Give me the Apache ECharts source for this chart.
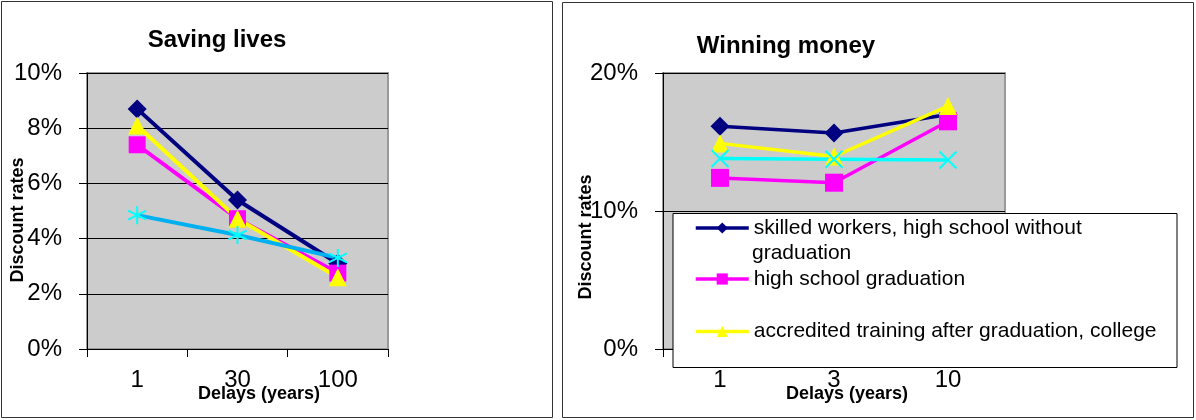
<!DOCTYPE html>
<html>
<head>
<meta charset="utf-8">
<script src="https://cdn.jsdelivr.net/npm/echarts@6/dist/echarts.min.js"></script>
<style>
html,body{margin:0;padding:0;background:#fff;}
#chart{width:1196px;height:420px;}
</style>
</head>
<body>
<div id="chart"></div>
<script>
// ---- data ----
var seriesNames = [
  'skilled workers, high school without graduation',
  'high school graduation',
  'other group',
  'accredited training after graduation, college'
];
var livesDelays = ['1', '30', '100'];
var livesSkilled = [8.7, 5.4, 3.1];
var livesHighSchool = [7.4, 4.72, 2.75];
var livesOther = [4.85, 4.13, 3.3];
var livesAccredited = [8.1, 4.72, 2.6];

var moneyDelays = ['1', '3', '10'];
var moneySkilled = [16.15, 15.65, 17.0];
var moneyHighSchool = [12.4, 12.05, 16.5];
var moneyOther = [13.8, 13.75, 13.7];
var moneyAccredited = [14.9, 13.95, 17.6];

var livesTicks = {min: 0, max: 10, interval: 2};
var moneyTicks = {min: 0, max: 20, interval: 10};

// ---- styles ----
var FONT = "'Liberation Sans', Arial, sans-serif";
var NAVY = '#000080', MAG = '#ff00ff', YEL = '#ffff00', CYAN = '#00ffff', SKY = '#00b0f0';
var asterisk = 'path://M10,0L10,20M1,5L19,15M1,15L19,5';
var xMark = 'path://M0,0L20,20M0,20L20,0';

function yAxisOpt(grid, t) {
  return {
    type: 'value', gridIndex: grid, min: t.min, max: t.max, interval: t.interval,
    axisLine: {show: true, lineStyle: {color: '#000', width: 1}},
    axisTick: {show: true, length: 8, lineStyle: {color: '#000'}},
    axisLabel: {formatter: '{value}%', fontSize: 24, color: '#000', fontFamily: FONT, margin: 25},
    splitLine: {show: true, lineStyle: {color: '#000', width: 1}}
  };
}
function xAxisOpt(grid, cats) {
  return {
    type: 'category', gridIndex: grid, data: cats, boundaryGap: true,
    axisLine: {show: true, lineStyle: {color: '#000', width: 1}},
    axisTick: {show: true, length: 8, alignWithLabel: false, interval: 0, lineStyle: {color: '#000'}},
    axisLabel: {fontSize: 24, color: '#000', fontFamily: FONT, margin: 19, interval: 0},
    splitLine: {show: false}
  };
}
function lineSeries(name, grid, data, color, lineColor, symbol, size, width, stroke) {
  return {
    type: 'line', name: name, xAxisIndex: grid, yAxisIndex: grid, data: data,
    symbol: symbol, symbolSize: size, showSymbol: true,
    lineStyle: {color: lineColor, width: width},
    itemStyle: stroke ? {color: color, borderColor: color, borderWidth: 2} : {color: color, borderWidth: 0},
    emphasis: {disabled: true}, animation: false
  };
}

var chart = echarts.init(document.getElementById('chart'), null, {renderer: 'canvas'});
var legendBase = {
  orient: 'horizontal', left: 694, padding: 0, itemWidth: 53, itemHeight: 14, itemGap: 5,
  z: 100, selectedMode: false,
  lineStyle: {width: 3.5},
  textStyle: {fontSize: 21, fontFamily: FONT, color: '#000'}
};

chart.setOption({
  animation: false,
  backgroundColor: '#fff',
  grid: [
    {left: 87, top: 73, width: 301, height: 276, show: true, backgroundColor: '#cccccc', borderColor: '#999999', borderWidth: 2},
    {left: 663, top: 73, width: 342, height: 276, show: true, backgroundColor: '#cccccc', borderColor: '#999999', borderWidth: 2}
  ],
  xAxis: [xAxisOpt(0, livesDelays), xAxisOpt(1, moneyDelays)],
  yAxis: [yAxisOpt(0, livesTicks), yAxisOpt(1, moneyTicks)],
  legend: [
    Object.assign({}, legendBase, {
      top: 217.5,
      data: [{name: seriesNames[0]}],
      formatter: function (n) { return n.replace(' graduation', ''); }
    }),
    Object.assign({}, legendBase, {top: 268.5, data: [{name: seriesNames[1]}]}),
    Object.assign({}, legendBase, {top: 321, data: [{name: seriesNames[3]}]})
  ],
  series: [
    lineSeries(seriesNames[0], 0, livesSkilled, NAVY, NAVY, 'diamond', 19, 4),
    lineSeries(seriesNames[1], 0, livesHighSchool, MAG, MAG, 'rect', 17, 4),
    lineSeries(seriesNames[3], 0, livesAccredited, YEL, YEL, 'triangle', 18, 4),
    lineSeries(seriesNames[2], 0, livesOther, CYAN, SKY, asterisk, 18, 4, true),
    lineSeries(seriesNames[0], 1, moneySkilled, NAVY, NAVY, 'diamond', 19, 3.5),
    lineSeries(seriesNames[1], 1, moneyHighSchool, MAG, MAG, 'rect', 18, 3.5),
    lineSeries(seriesNames[3], 1, moneyAccredited, YEL, YEL, 'triangle', 18, 3.5),
    lineSeries(seriesNames[2], 1, moneyOther, CYAN, CYAN, xMark, 17, 3.5, true)
  ],
  graphic: {elements: [
    {type: 'rect', z: 1, shape: {x: 1.5, y: 1.5, width: 551, height: 416}, style: {fill: 'none', stroke: '#333', lineWidth: 1}},
    {type: 'rect', z: 1, shape: {x: 562.5, y: 2.5, width: 631, height: 415}, style: {fill: 'none', stroke: '#333', lineWidth: 1}},
    {type: 'text', z: 5, x: 217, y: 40, style: {text: 'Saving lives', font: 'bold 24px ' + FONT, fill: '#000', align: 'center', verticalAlign: 'middle'}},
    {type: 'text', z: 5, x: 786, y: 46.5, style: {text: 'Winning money', font: 'bold 24px ' + FONT, fill: '#000', align: 'center', verticalAlign: 'middle'}},
    {type: 'text', z: 5, x: 259, y: 394, style: {text: 'Delays (years)', font: 'bold 18px ' + FONT, fill: '#000', align: 'center', verticalAlign: 'middle'}},
    {type: 'text', z: 5, x: 847, y: 394, style: {text: 'Delays (years)', font: 'bold 18px ' + FONT, fill: '#000', align: 'center', verticalAlign: 'middle'}},
    {type: 'text', z: 5, x: 18.5, y: 220, rotation: Math.PI / 2, style: {text: 'Discount rates', font: 'bold 18px ' + FONT, fill: '#000', align: 'center', verticalAlign: 'middle'}},
    {type: 'text', z: 95, x: 586, y: 237, rotation: Math.PI / 2, style: {text: 'Discount rates', font: 'bold 18px ' + FONT, fill: '#000', align: 'center', verticalAlign: 'middle'}},
    {type: 'rect', z: 90, shape: {x: 673, y: 213.5, width: 504, height: 154}, style: {fill: '#fff', stroke: '#000', lineWidth: 1}},
    {type: 'text', z: 100, x: 752, y: 253.5, style: {text: 'graduation', font: '21px ' + FONT, fill: '#000', align: 'left', verticalAlign: 'middle'}}
  ]}
});
</script>
</body>
</html>
